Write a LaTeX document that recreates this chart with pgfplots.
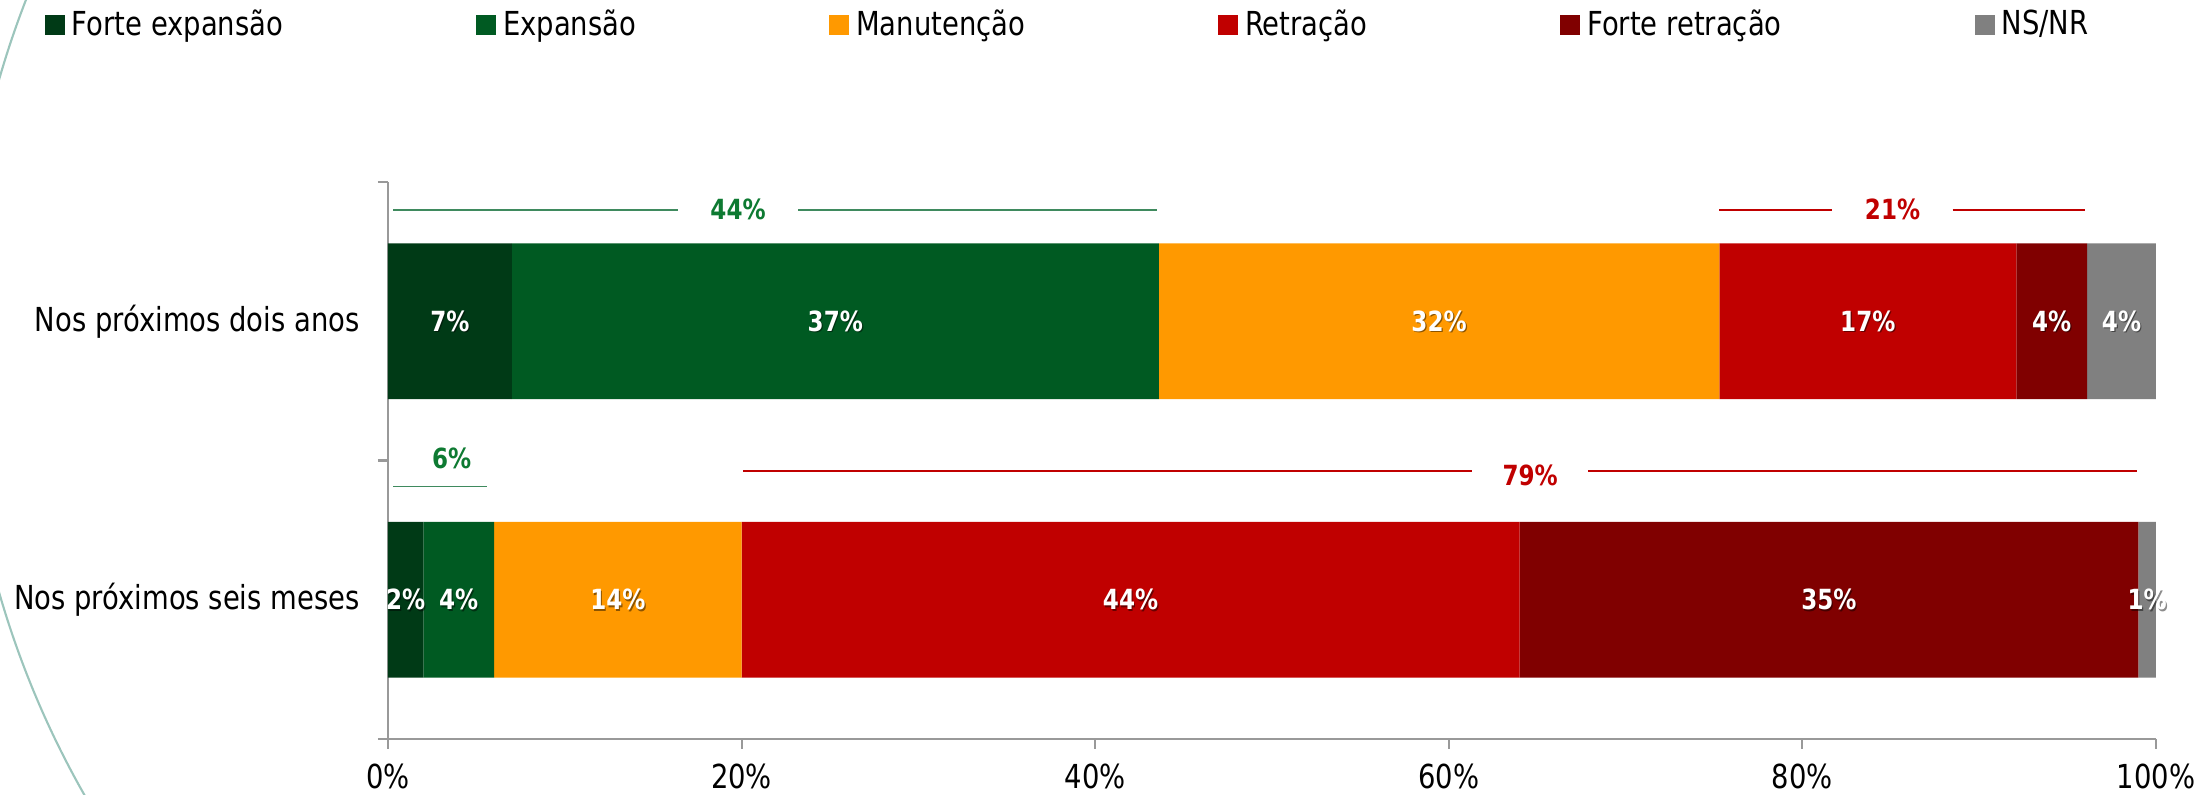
\documentclass[border=0pt]{standalone}
\usepackage{pgfplots}
\pgfplotsset{compat=1.18}
\usepackage{fontspec}
\setmainfont{DejaVu Sans}[FakeStretch=0.83]

\definecolor{fexp}{HTML}{003A16}
\definecolor{exp}{HTML}{005A22}
\definecolor{man}{HTML}{FF9900}
\definecolor{ret}{HTML}{C00000}
\definecolor{fret}{HTML}{800000}
\definecolor{nsnr}{HTML}{808080}
\definecolor{axisgray}{HTML}{999999}
\definecolor{anngreen}{HTML}{0E7A32}
\definecolor{annline}{HTML}{3F8A5E}
\definecolor{arccol}{HTML}{9CC5BC}

\tikzset{labelfont/.style={font=\bfseries\fontsize{7.9}{9}\selectfont}}
\pgfplotsset{
  commonaxis/.style={
    at={(0,0)}, anchor=south west,
    width=176.8mm, height=55.7mm, scale only axis,
    xmin=0, xmax=100, ymin=-0.5, ymax=1.5, clip=false},
}

\begin{document}
\begin{tikzpicture}
\useasboundingbox (-38.8mm,-5.6mm) rectangle (181mm,73.9mm);
\begin{scope}
\clip (-38.8mm,-5.6mm) rectangle (181mm,73.9mm);
\draw[arccol, line width=0.6pt] (50.3mm,40.3mm) ++(150:92.8mm) arc (150:215:92.8mm);
\end{scope}
\begin{axis}[
  commonaxis,
  xbar stacked, bar width=15.56mm,
  axis x line*=bottom, axis y line*=left,
  axis line style={axisgray, line width=0.6pt},
  tick style={axisgray, line width=0.6pt},
  tick align=outside, major tick length=1mm,
  xtick={0,20,40,60,80,100},
  xticklabels={0\%,20\%,40\%,60\%,80\%,100\%},
  ytick={-0.5,0.5,1.5}, yticklabels={},
  extra y ticks={0,1},
  extra y tick labels={Nos próximos seis meses, Nos próximos dois anos},
  extra y tick style={major tick length=0pt},
  ticklabel style={font=\fontsize{9.4}{11}\selectfont, text=black},
  xticklabel style={yshift=-0.3mm},
  yticklabel style={xshift=-1.6mm},
  legend columns=6,
  legend style={at={(axis description cs:-0.1945,1.282)}, anchor=west,
     draw=none, fill=none, inner sep=0pt,
     font=\fontsize{9.4}{11}\selectfont,
     /tikz/every even column/.append style={column sep=18.6mm}},
  legend image code/.code={\fill[#1] (0mm,-1mm) rectangle (2mm,1mm);},
]
\addplot[fill=fexp, draw=none] coordinates {(2.0,0) (7.0,1)};
\addplot[fill=exp, draw=none] coordinates {(4.0,0) (36.6,1)};
\addplot[fill=man, draw=none] coordinates {(14.0,0) (31.7,1)};
\addplot[fill=ret, draw=none] coordinates {(44.0,0) (16.8,1)};
\addplot[fill=fret, draw=none] coordinates {(35.0,0) (4.0,1)};
\addplot[fill=nsnr, draw=none] coordinates {(1.0,0) (3.9,1)};
\legend{Forte expansão, Expansão, Manutenção, Retração, Forte retração, NS/NR}

% annotations
\draw[annline, line width=0.5pt] (axis cs:0.3,1.40) -- (axis cs:16.4,1.40);
\draw[annline, line width=0.5pt] (axis cs:23.2,1.40) -- (axis cs:43.5,1.40);
\node[anngreen, labelfont] at (axis cs:19.8,1.40) {44\%};
\draw[ret, line width=0.5pt] (axis cs:75.3,1.40) -- (axis cs:81.7,1.40);
\draw[ret, line width=0.5pt] (axis cs:88.5,1.40) -- (axis cs:96.0,1.40);
\node[ret, labelfont] at (axis cs:85.1,1.40) {21\%};
\draw[annline, line width=0.5pt] (axis cs:0.3,0.407) -- (axis cs:5.6,0.407);
\node[anngreen, labelfont] at (axis cs:3.6,0.508) {6\%};
\draw[ret, line width=0.5pt] (axis cs:20.1,0.462) -- (axis cs:61.3,0.462);
\draw[ret, line width=0.5pt] (axis cs:67.9,0.462) -- (axis cs:98.9,0.462);
\node[ret, labelfont] at (axis cs:64.6,0.447) {79\%};
\end{axis}

% segment labels (centres of the stacked segments)
\begin{axis}[
  commonaxis, hide axis,
  nodes near coords, point meta=explicit symbolic,
]
\addplot[only marks, mark=none, nodes near coords,
  every node near coord/.append style={anchor=center, labelfont,
    text=black, opacity=0.45, xshift=0.35pt, yshift=-0.35pt}]
 coordinates {
 (3.5,1) [7\%] (25.3,1) [37\%] (59.45,1) [32\%] (83.7,1) [17\%] (94.1,1) [4\%] (98.05,1) [4\%]
 (1.0,0) [2\%] (4.0,0) [4\%] (13.0,0) [14\%] (42.0,0) [44\%] (81.5,0) [35\%] (99.5,0) [1\%]
 };
\addplot[only marks, mark=none, nodes near coords,
  every node near coord/.append style={anchor=center, labelfont, text=white}]
 coordinates {
 (3.5,1) [7\%] (25.3,1) [37\%] (59.45,1) [32\%] (83.7,1) [17\%] (94.1,1) [4\%] (98.05,1) [4\%]
 (1.0,0) [2\%] (4.0,0) [4\%] (13.0,0) [14\%] (42.0,0) [44\%] (81.5,0) [35\%] (99.5,0) [1\%]
 };
\end{axis}
\end{tikzpicture}
\end{document}
